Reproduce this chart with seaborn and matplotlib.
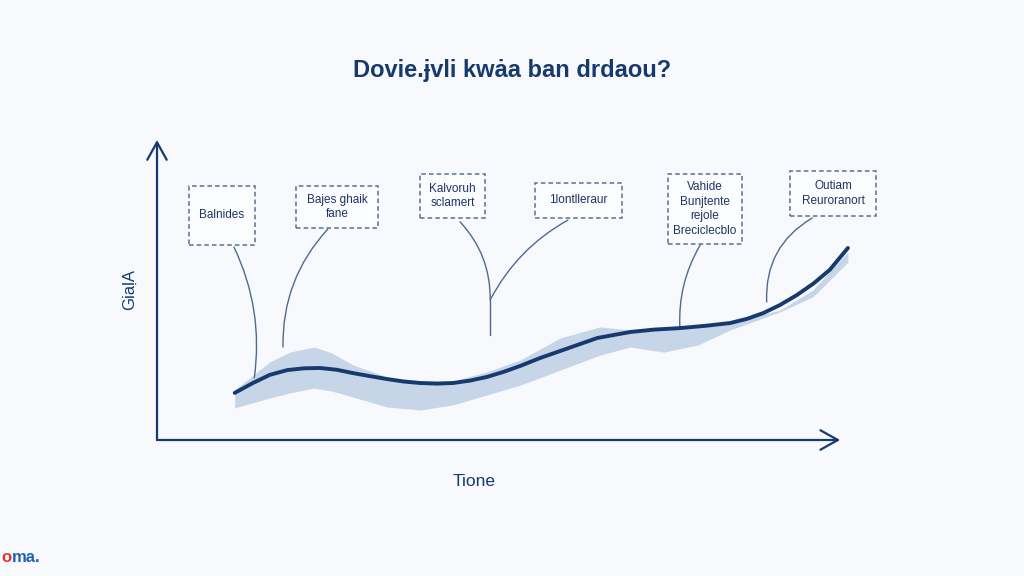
import matplotlib
matplotlib.use("Agg")
import matplotlib.pyplot as plt
import numpy as np
import pandas as pd
import seaborn as sns
from matplotlib.patches import Rectangle

# main curve (time vs value)
time_pts = [11.1, 13.7, 16.1, 18.6, 21.0, 23.3, 25.7, 28.0, 30.4, 32.9, 35.2, 37.6,
            40.0, 42.3, 44.7, 47.1, 49.5, 51.9, 54.7, 58.0, 62.9, 67.6, 71.0,
            74.7, 78.5, 81.9, 84.3, 86.6, 89.0, 91.4, 93.8, 96.1, 98.7]
value_pts = [15.7, 19.0, 21.7, 23.3, 23.9, 24.0, 23.4, 22.3, 21.3, 20.3, 19.5, 19.0,
             18.8, 19.0, 19.8, 21.0, 22.7, 24.7, 27.3, 30.0, 34.0, 36.0, 36.8,
             37.3, 38.1, 39.0, 40.4, 42.3, 45.0, 48.3, 52.2, 56.7, 64.0]

# uncertainty band
band_time = [11.1, 16.1, 19.0, 22.4, 25.0, 28.0, 32.9, 37.6, 42.3, 47.1, 51.9,
             57.6, 63.3, 67.6, 72.4, 77.3, 81.9, 89.0, 93.7, 98.7]
band_upper = [16.7, 26.0, 29.3, 31.0, 29.0, 25.0, 21.0, 19.7, 19.7, 22.7, 26.7,
              34.0, 37.7, 36.7, 37.3, 38.0, 39.3, 43.3, 50.0, 62.7]
band_lower = [10.7, 14.0, 15.7, 17.3, 16.3, 14.3, 11.0, 10.0, 11.7, 15.0, 18.3,
              23.3, 28.3, 31.0, 29.3, 31.7, 36.7, 42.7, 47.7, 59.3]

# annotation labels
labels = ["Balnides", "Bajes ghaik\nfane", "Kalvoruh\nsclamert",
          "1lontlleraur", "Vahide\nBunjtente\nrejole\nBreciclecblo",
          "Outiam\nReuroranort"]

title = "Dovie.ɉvli kwȧa ban drdaou?"
xlabel = "Tione"
ylabel = "GiaḷA"

navy = "#163a6e"
band_col = "#c6d5e8"
conn_col = "#4f6a92"
bg = "#f7f9fc"

sns.set_theme(style="white")
plt.rcParams["font.family"] = ["Liberation Sans", "DejaVu Sans"]

fig = plt.figure(figsize=(10.24, 5.76), dpi=100, facecolor=bg)
ax = fig.add_axes([157 / 1024, 136 / 576, 700 / 1024, 300 / 576])
ax.set_facecolor(bg)
ax.set_xlim(0, 100)
ax.set_ylim(0, 100)
for s in ax.spines.values():
    s.set_visible(False)
ax.set_xticks([])
ax.set_yticks([])

ax.fill_between(band_time, band_lower, band_upper, color=band_col, lw=0, zorder=1)
df = pd.DataFrame({"t": time_pts, "v": value_pts})
sns.lineplot(data=df, x="t", y="v", ax=ax, color=navy, lw=2.8, zorder=3,
             solid_capstyle="round", solid_joinstyle="round")
ax.set_xlabel("")
ax.set_ylabel("")

# axis arrows
arrow_kw = dict(arrowstyle="->,head_length=0.9,head_width=0.5", color=navy,
                lw=1.6, shrinkA=0, shrinkB=0, mutation_scale=14)
ax.annotate("", xy=(0, 100), xytext=(0, 0), arrowprops=arrow_kw, annotation_clip=False)
ax.annotate("", xy=(97.6, 0), xytext=(0, 0), arrowprops=arrow_kw, annotation_clip=False)

# annotation boxes (x0, x1, y0, y1 in data units)
boxes = [(4.57, 14.0, 65.0, 84.7), (19.86, 31.57, 70.7, 84.7),
         (37.57, 46.86, 74.0, 88.7), (54.0, 66.43, 74.0, 85.7),
         (73.0, 83.57, 65.3, 88.7), (90.43, 102.7, 74.7, 89.7)]
for (x0, x1, y0, y1), lab in zip(boxes, labels):
    ax.add_patch(Rectangle((x0, y0), x1 - x0, y1 - y0, fill=True, facecolor="#fbfcfe",
                           edgecolor="#5c6f8f", lw=1.1, ls=(0, (3, 2)),
                           clip_on=False, zorder=4))
    ax.text((x0 + x1) / 2, (y0 + y1) / 2, lab, ha="center", va="center",
            fontsize=8.5, color="#1c3563", linespacing=1.3, zorder=5)

# connectors
conns = [((11.0, 64.3), (13.9, 20.7), -0.15),
         ((24.4, 70.3), (18.0, 31.0), 0.2),
         ((43.3, 72.7), (47.6, 46.7), -0.2),
         ((58.7, 73.3), (47.6, 46.7), 0.15),
         ((77.6, 65.0), (74.7, 37.3), 0.15),
         ((93.6, 74.0), (87.1, 46.0), 0.3)]
for start, end, rad in conns:
    ax.annotate("", xy=end, xytext=start, annotation_clip=False,
                arrowprops=dict(arrowstyle="-", color=conn_col, lw=1.0,
                                shrinkA=0, shrinkB=0,
                                connectionstyle=f"arc3,rad={rad}"), zorder=2)
ax.plot([47.6, 47.6], [46.7, 35.0], color=conn_col, lw=1.0, zorder=2)

fig.text(512 / 1024, 1 - 70 / 576, title, ha="center", va="center",
         fontsize=17, fontweight="bold", color=navy)
fig.text(474 / 1024, 1 - 481 / 576, xlabel, ha="center", va="center",
         fontsize=12.5, color=navy)
fig.text(129 / 1024, 1 - 289 / 576, ylabel, ha="center", va="center",
         rotation=90, fontsize=12, color=navy)

fig.text(1 / 1024, 1 - 558 / 576, "o", ha="left", va="center",
         fontsize=12, fontweight="bold", color="#e5332a")
fig.text(12 / 1024, 1 - 558 / 576, "ma.", ha="left", va="center",
         fontsize=12, fontweight="bold", color="#1f62b5")

fig.savefig("out.png", dpi=100, facecolor=bg)
